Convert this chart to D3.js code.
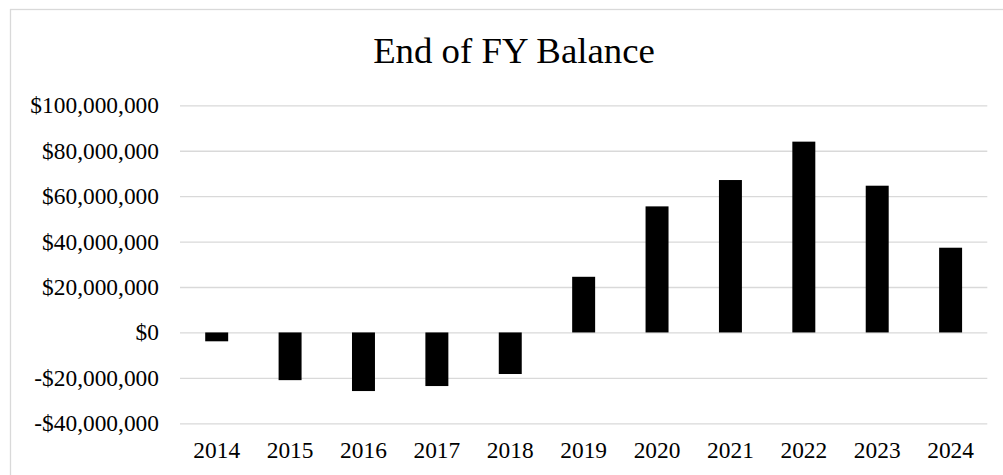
<!DOCTYPE html>
<html>
<head>
<meta charset="utf-8">
<script src="https://cdn.jsdelivr.net/npm/d3@7"></script>
<style>
  html, body { margin: 0; padding: 0; background: #fff; }
  svg { display: block; }
</style>
</head>
<body>
<svg id="chart" width="1003" height="475"></svg>
<script>
const title = "End of FY Balance";
const categories = ["2014","2015","2016","2017","2018","2019","2020","2021","2022","2023","2024"];
const values = [-3900000, -21000000, -25800000, -23600000, -18300000, 24500000, 55500000, 67100000, 84000000, 64600000, 37300000];
const yTicks = [-40000000, -20000000, 0, 20000000, 40000000, 60000000, 80000000, 100000000];

const svg = d3.select("#chart");
const plot = { left: 180, right: 987.3, top: 105.3, bottom: 423.3 };
const font = "'Liberation Serif', 'Times New Roman', serif";

// chart border (extends past the visible area on right/bottom)
svg.append("rect")
  .attr("x", 10.5).attr("y", 9.5)
  .attr("width", 1020).attr("height", 480)
  .attr("fill", "#fff")
  .attr("stroke", "#d9d9d9").attr("stroke-width", 1.3);

const x = d3.scaleBand()
  .domain(categories)
  .range([plot.left, plot.right])
  .paddingInner(0.687)
  .paddingOuter(0.3435);

const y = d3.scaleLinear()
  .domain([-40000000, 100000000])
  .range([plot.bottom, plot.top]);

const fmt = v => (v < 0 ? "-$" : "$") + d3.format(",")(Math.abs(v));

// gridlines + y labels via axis
const yAxis = d3.axisLeft(y)
  .tickValues(yTicks)
  .tickSize(-(plot.right - plot.left))
  .tickPadding(21)
  .tickFormat(fmt);

const gy = svg.append("g")
  .attr("transform", `translate(${plot.left},0)`)
  .call(yAxis);
gy.select(".domain").remove();
gy.selectAll(".tick line").attr("stroke", "#d9d9d9").attr("stroke-width", 1.3);
gy.selectAll(".tick text")
  .attr("font-family", font)
  .attr("font-size", "23.4px")
  .attr("fill", "#000");

// bars
svg.append("g").selectAll("rect")
  .data(values)
  .join("rect")
  .attr("x", (d, i) => x(categories[i]))
  .attr("width", x.bandwidth())
  .attr("y", d => y(Math.max(0, d)))
  .attr("height", d => Math.abs(y(d) - y(0)))
  .attr("fill", "#000");

// x labels
const xAxis = d3.axisBottom(x).tickSize(0).tickPadding(0);
const gx = svg.append("g")
  .attr("transform", `translate(0,${plot.bottom})`)
  .call(xAxis);
gx.select(".domain").remove();
gx.selectAll(".tick text")
  .attr("font-family", font)
  .attr("font-size", "23.4px")
  .attr("fill", "#000")
  .attr("dy", null)
  .attr("y", 0)
  .attr("transform", "translate(0,35)");

// title
svg.append("text")
  .attr("x", 514).attr("y", 63.3)
  .attr("text-anchor", "middle")
  .attr("font-family", font)
  .attr("font-size", "36.8px")
  .attr("fill", "#000")
  .text(title);
</script>
</body>
</html>
